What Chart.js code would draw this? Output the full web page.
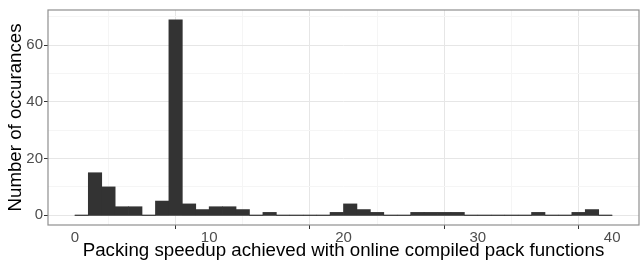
<!DOCTYPE html>
<html>
<head>
<meta charset="utf-8">
<script src="https://cdn.jsdelivr.net/npm/chart.js@4"></script>
<style>
  html, body { margin: 0; padding: 0; background: #fff; }
  #wrap { width: 640px; height: 262px; position: relative; }
</style>
</head>
<body>
<div id="wrap"><canvas id="c"></canvas></div>
<script>
// Histogram bins (left edges, width 1) and counts
const binStarts = [0,1,2,3,4,5,6,7,8,9,10,11,12,13,14,15,16,17,18,19,20,21,22,23,24,25,26,27,28,29,30,31,32,33,34,35,36,37,38,39];
const counts    = [0,15,10,3,3,0,5,69,4,2,3,3,2,0,1,0,0,0,0,1,4,2,1,0,0,1,1,1,1,0,0,0,0,0,1,0,0,1,2,0];
const binWidth = 1;
const xTicks = [0,5,10,15,20,25,30,35,40];
const xLabels = [0,10,20,30,40];
const yTicks = [0,10,20,30,40,50,60,70];
const yLabels = [0,20,40,60];
const xTitle = 'Packing speedup achieved with online compiled pack functions';
const yTitle = 'Number of occurances';

const FONT = '"Liberation Sans", Arial, Helvetica, sans-serif';

const panelBorder = {
  id: 'panelBorder',
  afterDraw(chart) {
    const a = chart.chartArea, ctx = chart.ctx;
    ctx.save();
    ctx.strokeStyle = '#8f8f8f';
    ctx.lineWidth = 1.2;
    ctx.strokeRect(a.left, a.top, a.right - a.left, a.bottom - a.top);
    ctx.restore();
  }
};

new Chart(document.getElementById('c'), {
  type: 'bar',
  data: {
    datasets: [
      {
        type: 'line',
        data: [{x: binStarts[0], y: 0}, {x: binStarts[binStarts.length-1] + binWidth, y: 0}],
        borderColor: '#333333',
        borderWidth: 1.2,
        pointRadius: 0,
        order: 2
      },
      {
        type: 'bar',
        data: binStarts.map((b, i) => ({x: b + binWidth / 2, y: counts[i]})),
        backgroundColor: '#333333',
        borderWidth: 0,
        barPercentage: 1,
        categoryPercentage: 1,
        order: 1
      }
    ]
  },
  options: {
    responsive: true,
    maintainAspectRatio: false,
    animation: false,
    layout: { padding: { top: 5, right: 1, left: 0, bottom: 0 } },
    plugins: { legend: { display: false }, tooltip: { enabled: false } },
    scales: {
      x: {
        type: 'linear',
        min: -2,
        max: 42,
        offset: false,
        afterBuildTicks(s) { s.ticks = xTicks.map(v => ({value: v})); },
        afterFit(s) { s.height = 37; },
        border: { display: false },
        grid: {
          color: c => (c.tick && xLabels.includes(c.tick.value)) ? '#e6e6e6' : '#f5f5f5',
          lineWidth: 1,
          tickLength: 4,
          tickColor: c => (c.tick && xLabels.includes(c.tick.value)) ? '#333333' : 'rgba(0,0,0,0)'
        },
        ticks: {
          autoSkip: false,
          maxRotation: 0,
          padding: 0,
          color: '#4d4d4d',
          font: { family: FONT, size: 15 },
          callback: v => xLabels.includes(v) ? String(v) : ''
        },
        title: {
          display: true,
          text: xTitle,
          color: '#000',
          font: { family: FONT, size: 18.7 },
          padding: { top: 0, bottom: 0 }
        }
      },
      y: {
        type: 'linear',
        min: -3.45,
        max: 72.45,
        afterBuildTicks(s) { s.ticks = yTicks.map(v => ({value: v})); },
        afterFit(s) { s.width = 48; },
        border: { display: false },
        grid: {
          color: c => (c.tick && yLabels.includes(c.tick.value)) ? '#e6e6e6' : '#f5f5f5',
          lineWidth: 1,
          tickLength: 4,
          tickColor: c => (c.tick && yLabels.includes(c.tick.value)) ? '#333333' : 'rgba(0,0,0,0)'
        },
        ticks: {
          autoSkip: false,
          padding: 1,
          color: '#4d4d4d',
          font: { family: FONT, size: 15 },
          callback: v => yLabels.includes(v) ? String(v) : ''
        },
        title: {
          display: true,
          text: yTitle,
          color: '#000',
          font: { family: FONT, size: 18.7 },
          padding: { top: 5, bottom: 0 }
        }
      }
    }
  },
  plugins: [panelBorder]
});
</script>
</body>
</html>
